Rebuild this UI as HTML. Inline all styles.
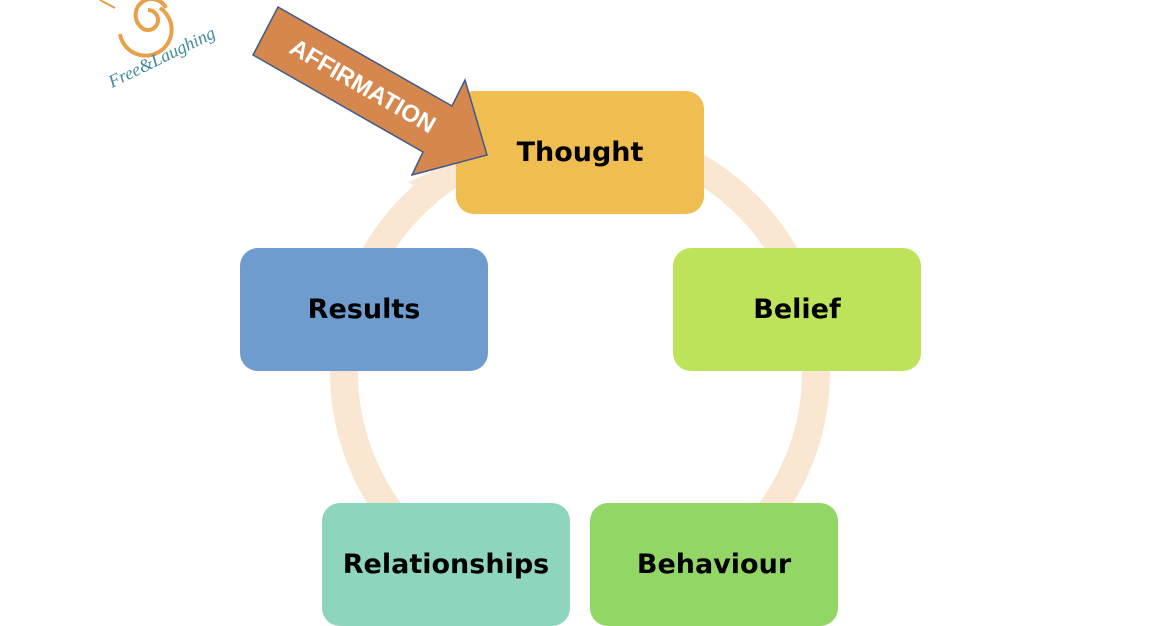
<!DOCTYPE html>
<html><head><style>
body{margin:0;width:1160px;height:580px;background:#fff;overflow:hidden;position:relative;font-family:"Comic Sans MS","DejaVu Sans",sans-serif}
.b{position:absolute;width:248px;height:123px;border-radius:18px;display:flex;align-items:center;justify-content:center;font-weight:bold;font-size:27px;color:#000}
</style></head><body>
<svg width="1160" height="580" style="position:absolute;left:0;top:0">
<circle cx="580" cy="372" r="236" fill="none" stroke="#fae7d2" stroke-width="28"/>
<polygon points="408,182 446,166 440,200" fill="#fae7d2"/>
<path d="M148,10 a10,10 0 1,1 -8,16 a16,16 0 1,1 26,-18 M160,8 a26,26 0 1,1 -40,26" fill="none" stroke="#e9a04a" stroke-width="4"/>
<line x1="100" y1="0" x2="115" y2="8" stroke="#e9a04a" stroke-width="2"/>
<text x="0" y="0" fill="#3f8a9a" font-family="Liberation Serif,serif" font-style="italic" font-size="18" transform="translate(112,88) rotate(-26)">Free&amp;Laughing</text>
</svg>
<div class="b" style="left:456px;top:91px;background:#f0be50">Thought</div>
<div class="b" style="left:673px;top:248px;background:#bde35a">Belief</div>
<div class="b" style="left:240px;top:248px;background:#6e9ccf">Results</div>
<div class="b" style="left:322px;top:503px;background:#8dd6bd">Relationships</div>
<div class="b" style="left:590px;top:503px;background:#92d765">Behaviour</div>
<svg width="1160" height="580" style="position:absolute;left:0;top:0">
<polygon points="278,7 452,106 465,80 487,155 412,175 423,152 253,55" fill="#d6874e" stroke="#3d5a8a" stroke-width="1.5"/>
<text x="0" y="0" fill="#fff" font-family="Liberation Sans,sans-serif" font-weight="bold" font-size="24" transform="translate(288,52) rotate(30)">AFFIRMATION</text>
</svg>
</body></html>
